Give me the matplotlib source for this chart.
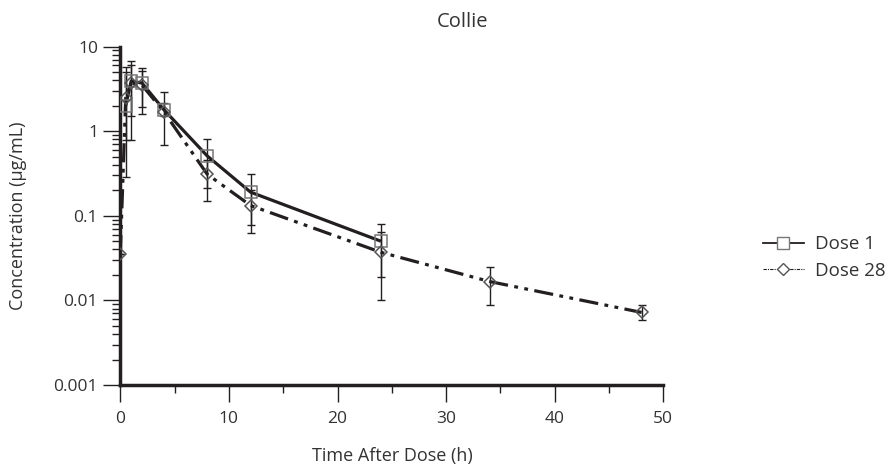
import numpy as np
import matplotlib.pyplot as plt
from matplotlib.lines import Line2D

plt.rcParams['font.family'] = ['Open Sans', 'DejaVu Sans']

# Dose 1 (day 1)
t_d1 = [0.5, 1, 2, 4, 8, 12, 24]
conc_d1 = [2.0, 3.9, 3.7, 1.8, 0.51, 0.19, 0.05]
lo_d1 = [0.79, 1.52, 1.93, 0.69, 0.21, 0.078, 0.0188]
hi_d1 = [5.7, 6.8, 5.6, 2.91, 0.81, 0.31, 0.080]

# Dose 28
t_d28 = [0, 0.5, 1, 2, 4, 8, 12, 24, 34, 48]
conc_d28 = [0.035, 2.47, 3.7, 3.5, 1.7, 0.31, 0.132, 0.037, 0.0167, 0.0072]
lo_d28 = [0.035, 0.29, 0.79, 1.61, 1.52, 0.15, 0.063, 0.0102, 0.0089, 0.0059]
hi_d28 = [0.035, 5.0, 6.0, 5.1, 2.16, 0.45, 0.2, 0.065, 0.0247, 0.0088]

dark = '#231f20'
txt = '#333333'

fig = plt.figure(figsize=(8.93, 4.68), dpi=100)
ax = fig.add_axes([0.1347, 0.1774, 0.6081, 0.7232])

# error bars
ax.errorbar(t_d1, conc_d1,
            yerr=[np.array(conc_d1) - np.array(lo_d1), np.array(hi_d1) - np.array(conc_d1)],
            fmt='none', ecolor=dark, elinewidth=1.0, capsize=3, capthick=1.0, zorder=2)
ax.errorbar(t_d28, conc_d28,
            yerr=[np.array(conc_d28) - np.array(lo_d28), np.array(hi_d28) - np.array(conc_d28)],
            fmt='none', ecolor=dark, elinewidth=1.0, capsize=3, capthick=1.0, zorder=2)

# lines
ax.plot(t_d1, conc_d1, color=dark, lw=2.3, solid_capstyle='butt', zorder=3)
ax.plot(t_d28, conc_d28, color=dark, lw=2.3, dashes=(6, 2, 1.2, 2, 1.2, 2), zorder=3)

# markers
ax.plot(t_d1, conc_d1, ls='none', marker='s', ms=8, mfc='none', mec='#777777', mew=1.1, zorder=4)
ax.plot(t_d28, conc_d28, ls='none', marker='D', ms=6.5, mfc='none', mec='#555555', mew=1.1, zorder=4)

ax.set_yscale('log')
ax.set_ylim(0.001, 10)
ax.set_xlim(0, 50)
ax.set_xticks([0, 10, 20, 30, 40, 50])
ax.set_xticks([5, 15, 25, 35, 45], minor=True)
ax.set_yticks([0.001, 0.01, 0.1, 1, 10])
ax.set_yticklabels(['0.001', '0.01', '0.1', '1', '10'])

for s in ['top', 'right']:
    ax.spines[s].set_visible(False)
for s in ['left', 'bottom']:
    ax.spines[s].set_linewidth(2.5)
    ax.spines[s].set_color(dark)

ax.tick_params(which='major', length=12, width=1.0, color=dark, labelsize=12.5,
               labelcolor=txt, pad=4)
ax.tick_params(axis='x', which='major', pad=7)
ax.tick_params(which='minor', length=6, width=1.0, color=dark)

fig.text(463 / 893, 1 - 22 / 468, 'Collie', fontsize=14.5, color=txt, ha='center', va='center')
fig.text(392 / 893, 1 - 456 / 468, 'Time After Dose (h)', fontsize=13, color=txt,
         ha='center', va='center')
fig.text(18 / 893, 1 - 216 / 468, 'Concentration (\u03bcg/mL)', fontsize=13, color=txt,
         ha='center', va='center', rotation=90)

handles = [
    Line2D([], [], color=dark, lw=1.3, marker='s', ms=8, mfc='white', mec='#777777', mew=1.0),
    Line2D([], [], color=dark, lw=0.8, dashes=(3, 1, 1, 1), marker='D', ms=6.5, mfc='white',
           mec='#555555', mew=1.0),
]
fig.legend(handles, ['Dose 1', 'Dose 28'], loc='center left', bbox_to_anchor=(0.854, 0.45),
           frameon=False, fontsize=13.5, handlelength=2.2, handletextpad=0.6,
           labelcolor=txt, labelspacing=0.45, borderaxespad=0, borderpad=0)

fig.savefig('out.png', dpi=100)
